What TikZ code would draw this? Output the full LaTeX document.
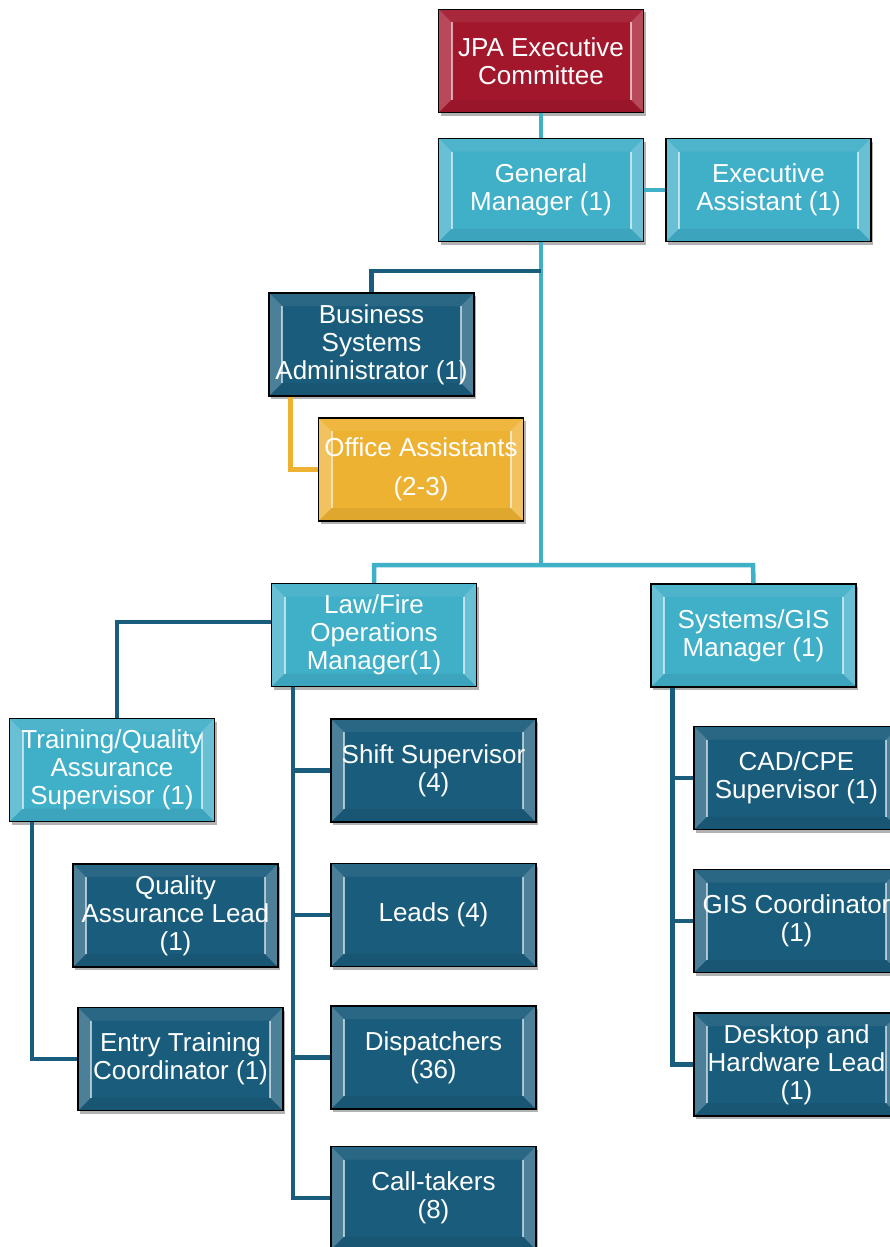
\documentclass[tikz,border=0pt]{standalone}
\usepackage{fontspec}
\setmainfont{Liberation Sans}
\usetikzlibrary{shadows,calc}
\definecolor{cred}{HTML}{A3172D}
\definecolor{clight}{HTML}{40AFC8}
\definecolor{cdark}{HTML}{1A5C7C}
\definecolor{cgold}{HTML}{EEB232}
\tikzset{
  bevel/.style={path picture={
    \path (path picture bounding box.north west) coordinate (pNW)
          (path picture bounding box.north east) coordinate (pNE)
          (path picture bounding box.south west) coordinate (pSW)
          (path picture bounding box.south east) coordinate (pSE);
    \fill[white,opacity=0.22] (pNW) -- ([shift={(13pt,-13pt)}]pNW) -- ([shift={(13pt,13pt)}]pSW) -- (pSW) -- cycle;
    \fill[white,opacity=0.22] (pNE) -- ([shift={(-13pt,-13pt)}]pNE) -- ([shift={(-13pt,13pt)}]pSE) -- (pSE) -- cycle;
    \fill[white,opacity=0.07] (pNW) -- (pNE) -- ([shift={(-13pt,-13pt)}]pNE) -- ([shift={(13pt,-13pt)}]pNW) -- cycle;
    \fill[black,opacity=0.06] (pSW) -- (pSE) -- ([shift={(-13pt,13pt)}]pSE) -- ([shift={(13pt,13pt)}]pSW) -- cycle;
    \draw[white,opacity=0.6,line width=2pt] ([shift={(13pt,-13pt)}]pNW) -- ([shift={(13pt,13pt)}]pSW);
    \draw[white,opacity=0.6,line width=2pt] ([shift={(-13pt,-13pt)}]pNE) -- ([shift={(-13pt,13pt)}]pSE);
  }},
  box/.style={draw=black, line width=1.5pt, text=white, align=center,
    minimum width=205pt, minimum height=103pt, inner sep=0pt,
    font=\fontsize{26}{28}\selectfont, bevel,
    drop shadow={shadow xshift=2pt,shadow yshift=-3pt,opacity=0.3,fill=black}},
  redbox/.style={box, fill=cred},
  lightbox/.style={box, fill=clight},
  darkbox/.style={box, fill=cdark},
  goldbox/.style={box, fill=cgold},
  lightline/.style={draw=clight, line width=4.5pt},
  darkline/.style={draw=cdark, line width=4.5pt},
  goldline/.style={draw=cgold, line width=4.5pt},
}
\begin{document}
\begin{tikzpicture}[x=1pt,y=-1pt]
\useasboundingbox (0,0) rectangle (889,1247);
\coordinate (b1) at (541,271);
\coordinate (jr) at (753,565);

% nodes
\node[redbox]   (jpa) at (541,61)    {JPA Executive\\Committee};
\node[lightbox] (gm)  at (541,190)   {General\\Manager (1)};
\node[lightbox] (ea)  at (768.5,190) {Executive\\Assistant (1)};
\node[darkbox]  (bsa) at (371.5,344.5) {Business\\Systems\\Administrator (1)};
\node[goldbox]  (oa)  at (421,469.5) {Office Assistants\\[11pt](2-3)};
\node[lightbox] (lf)  at (374,635)   {Law/Fire\\Operations\\Manager(1)};
\node[lightbox] (sg)  at (753.5,635.5) {Systems/GIS\\Manager (1)};
\node[lightbox] (tq)  at (112,770)   {Training/Quality\\Assurance\\Supervisor (1)};
\node[darkbox]  (qal) at (175.5,915.5) {Quality\\Assurance Lead\\(1)};
\node[darkbox]  (et)  at (180.5,1059) {Entry Training\\Coordinator (1)};
\node[darkbox]  (ss)  at (433.5,770.5) {Shift Supervisor\\(4)};
\node[darkbox]  (ld)  at (433.5,915)  {Leads (4)};
\node[darkbox]  (dp)  at (433.5,1057.5) {Dispatchers\\(36)};
\node[darkbox]  (ct)  at (433.5,1198) {Call-takers\\(8)};
\node[darkbox]  (cad) at (796.5,778)  {CAD/CPE\\Supervisor (1)};
\node[darkbox]  (gis) at (796.5,921)  {GIS Coordinator\\(1)};
\node[darkbox]  (dh)  at (796.5,1064.5) {Desktop and\\Hardware Lead\\(1)};

% connectors
\draw[lightline] (jpa.south) -- (jpa.south |- gm.north);
\draw[lightline] (gm.east) -- (gm.east -| ea.west);
\draw[lightline] (gm.south) -- (gm.south |- jr);
\draw[lightline] (lf.north) |- (jr) -- (sg.north);
\draw[darkline] (bsa.north) |- (b1);
\draw[goldline] ([xshift=22pt]bsa.south west) |- (oa.west);
\draw[darkline] ([yshift=13pt]lf.west) -| ([xshift=5pt]tq.north);
\draw[darkline] ([xshift=22pt]lf.south west) |- (ss.west);
\draw[darkline] ([xshift=22pt]lf.south west) |- (ld.west);
\draw[darkline] ([xshift=22pt]lf.south west) |- (dp.west);
\draw[darkline] ([xshift=22pt]lf.south west) |- (ct.west);
\draw[darkline] ([xshift=23pt]tq.south west) |- (et.west);
\draw[darkline] ([xshift=22pt]sg.south west) |- (cad.west);
\draw[darkline] ([xshift=22pt]sg.south west) |- (gis.west);
\draw[darkline] ([xshift=22pt]sg.south west) |- (dh.west);
\end{tikzpicture}
\end{document}
